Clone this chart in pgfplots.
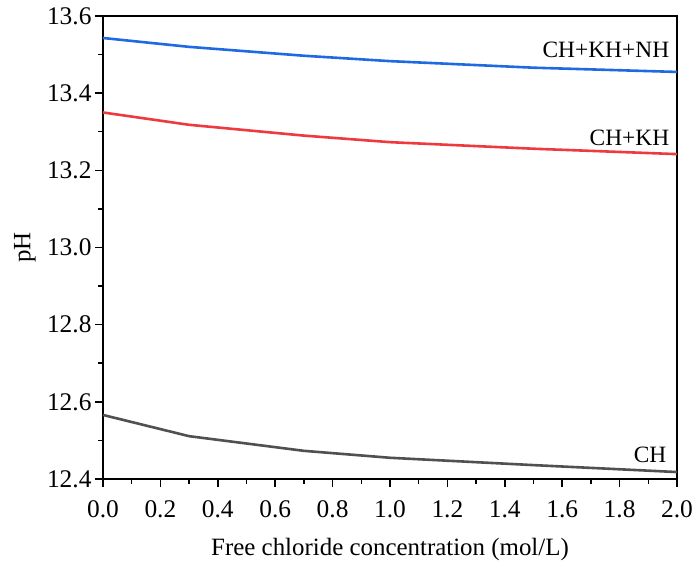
\documentclass[border=0pt]{standalone}
\usepackage{fontspec}
\setmainfont{Liberation Serif}
\usepackage{pgfplots}
\pgfplotsset{compat=1.18}
\definecolor{cblue}{HTML}{1F6AE0}
\definecolor{cred}{HTML}{EE3A3F}
\definecolor{cgrey}{HTML}{505050}
\begin{document}
\begin{tikzpicture}
\useasboundingbox (0,0) rectangle (694bp,566bp);
\begin{axis}[
  at={(103bp,87bp)}, anchor=south west,
  width=574bp, height=463bp, scale only axis,
  xmin=0, xmax=2, ymin=12.4, ymax=13.6,
  xtick={0,0.2,0.4,0.6,0.8,1.0,1.2,1.4,1.6,1.8,2.0},
  xticklabels={0.0,0.2,0.4,0.6,0.8,1.0,1.2,1.4,1.6,1.8,2.0},
  ytick={12.4,12.6,12.8,13.0,13.2,13.4,13.6},
  yticklabels={12.4,12.6,12.8,13.0,13.2,13.4,13.6},
  minor x tick num=1, minor y tick num=1,
  tick align=outside, tick pos=left,
  major tick length=8bp, minor tick length=4.5bp,
  every tick/.style={black, line width=1.5bp},
  axis line style={line width=1.5bp},
  xticklabel style={font=\fontsize{25.5}{29}\selectfont, yshift=-10bp},
  yticklabel style={font=\fontsize{25.5}{29}\selectfont},
  xlabel={Free chloride concentration (mol/L)},
  ylabel={pH},
  every axis x label/.style={at={(axis description cs:0.5,-0.1533)}, anchor=center, font=\fontsize{25}{29}\selectfont},
  every axis y label/.style={at={(axis description cs:-0.1359,0.5)}, anchor=center, rotate=90, font=\fontsize{25}{29}\selectfont},
  clip=false,
]
\addplot[cblue, line width=2.6bp] coordinates {
  (0,13.543) (0.3,13.520) (0.7,13.497) (1.0,13.483) (1.5,13.466) (2.0,13.455)};
\addplot[cred, line width=2.6bp] coordinates {
  (0,13.350) (0.3,13.318) (0.7,13.290) (1.0,13.273) (1.5,13.256) (2.0,13.242)};
\addplot[cgrey, line width=2.6bp] coordinates {
  (0,12.566) (0.3,12.511) (0.7,12.473) (1.0,12.455) (1.5,12.436) (2.0,12.418)};
\node[anchor=east, font=\fontsize{23.5}{27}\selectfont] at (axis cs:1.985,13.512) {CH+KH+NH};
\node[anchor=east, font=\fontsize{23.5}{27}\selectfont] at (axis cs:1.985,13.284) {CH+KH};
\node[anchor=east, font=\fontsize{23.5}{27}\selectfont] at (axis cs:1.975,12.462) {CH};
\end{axis}
\end{tikzpicture}
\end{document}
